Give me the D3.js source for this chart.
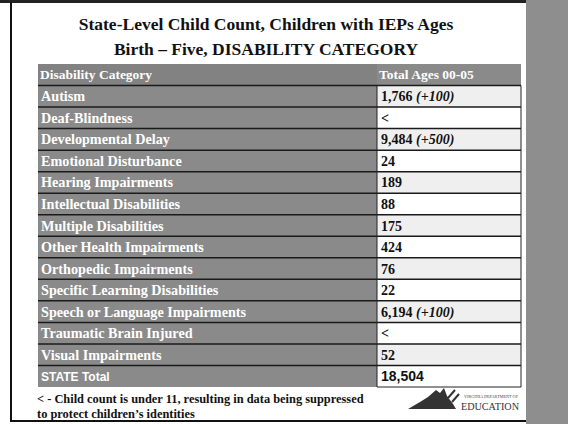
<!DOCTYPE html>
<html>
    <head>
        <meta charset="utf-8">
        <style>
            body { margin: 0; background: #fff; }
            svg { display: block; }
            .serif { font-family: "Liberation Serif", "Times New Roman", serif; font-weight: bold; }
            .sans { font-family: "Liberation Sans", Arial, sans-serif; font-weight: bold; }
        </style>
    </head>
    <body>
        <svg class="chart" width="568" height="424"></svg>
        <script src="https://cdnjs.cloudflare.com/ajax/libs/d3/7.8.5/d3.min.js"></script>
        <script>
            // table content
            var categories = ['Autism', 'Deaf-Blindness', 'Developmental Delay', 'Emotional Disturbance',
                'Hearing Impairments', 'Intellectual Disabilities', 'Multiple Disabilities',
                'Other Health Impairments', 'Orthopedic Impairments', 'Specific Learning Disabilities',
                'Speech or Language Impairments', 'Traumatic Brain Injured', 'Visual Impairments', 'STATE Total'];
            var totals = ['1,766', '<', '9,484', '24', '189', '88', '175', '424', '76', '22', '6,194', '<', '52', '18,504'];
            var changes = ['(+100)', '', '(+500)', '', '', '', '', '', '', '', '(+100)', '', '', ''];
            var headers = ['Disability Category', 'Total  Ages 00-05'];
            var titleLines = ['State-Level Child Count, Children with IEPs Ages', 'Birth \u2013 Five, DISABILITY CATEGORY'];
            var notes = ['< - Child count is under 11, resulting in data being suppressed', 'to protect children\u2019s identities'];

            var svg = d3.select('svg');

            // background: grey strip on right, frame
            svg.append('rect').attr('x', 526).attr('y', 0).attr('width', 42).attr('height', 424).attr('fill', '#8e8e8e');
            svg.append('rect').attr('x', 0).attr('y', 0).attr('width', 526).attr('height', 3).attr('fill', '#222');
            svg.append('line').attr('x1', 11).attr('x2', 11).attr('y1', 2).attr('y2', 421).attr('stroke', '#111').attr('stroke-width', 2);
            svg.append('line').attr('x1', 10).attr('x2', 526).attr('y1', 421).attr('y2', 421).attr('stroke', '#111').attr('stroke-width', 2);

            // title
            svg.selectAll('.title').data(titleLines).enter().append('text')
              .attr('class', 'serif title')
              .attr('x', 266)
              .attr('y', function(d, i) { return 30 + i * 25; })
              .attr('text-anchor', 'middle')
              .attr('font-size', 17.5)
              .attr('fill', '#111')
              .text(function(d) { return d; });

            var rows = ['header'].concat(categories);
            var y = d3.scaleBand().domain(d3.range(rows.length)).range([64, 387]);
            var x = d3.scaleOrdinal().domain([0, 1, 2]).range([38, 377, 521]);

            var tbl = svg.append('g');

            // category column cells
            tbl.selectAll('.cat').data(rows).enter().append('rect')
              .attr('x', x(0)).attr('width', x(1) - x(0))
              .attr('y', function(d, i) { return y(i); })
              .attr('height', y.bandwidth())
              .attr('fill', function(d, i) { return i === 0 ? '#828282' : '#8a8a8a'; });

            // value column cells
            tbl.selectAll('.val').data(rows).enter().append('rect')
              .attr('x', x(1)).attr('width', x(2) - x(1))
              .attr('y', function(d, i) { return y(i); })
              .attr('height', y.bandwidth())
              .attr('fill', function(d, i) {
                  if (i === 0) return '#8a8a8a';
                  return (i - 1) % 2 === 0 && i < rows.length - 1 ? '#efefef' : '#fff';
              });

            // row separators
            tbl.selectAll('.sep').data(d3.range(1, rows.length)).enter().append('line')
              .attr('x1', x(0)).attr('x2', x(2))
              .attr('y1', function(i) { return y(i); })
              .attr('y2', function(i) { return y(i); })
              .attr('stroke', '#1a1a1a').attr('stroke-width', 1.5);

            tbl.append('line').attr('x1', x(1)).attr('x2', x(1)).attr('y1', y(1)).attr('y2', 387)
              .attr('stroke', '#222').attr('stroke-width', 1);
            tbl.append('line').attr('x1', x(2)).attr('x2', x(2)).attr('y1', y(1)).attr('y2', 387)
              .attr('stroke', '#222').attr('stroke-width', 1);
            tbl.append('line').attr('x1', x(1)).attr('x2', x(2)).attr('y1', 387).attr('y2', 387)
              .attr('stroke', '#222').attr('stroke-width', 1);

            // header text
            tbl.selectAll('.hdr').data(headers).enter().append('text')
              .attr('class', 'serif')
              .attr('x', function(d, i) { return x(i) + 2; })
              .attr('y', y(0) + y.bandwidth() / 2 + 4)
              .attr('font-size', 13.5)
              .attr('fill', '#fff')
              .text(function(d) { return d; });

            // category labels
            tbl.selectAll('.lbl').data(categories).enter().append('text')
              .attr('class', function(d, i) { return i === categories.length - 1 ? 'sans' : 'serif'; })
              .attr('x', x(0) + 3)
              .attr('y', function(d, i) { return y(i + 1) + y.bandwidth() / 2 + 5; })
              .attr('font-size', function(d, i) { return i === categories.length - 1 ? 12 : 14.2; })
              .attr('fill', '#fff')
              .text(function(d) { return d; });

            // values
            var vals = tbl.selectAll('.v').data(totals).enter().append('text')
              .attr('class', function(d, i) { return i === totals.length - 1 ? 'sans' : 'serif'; })
              .attr('x', x(1) + 4)
              .attr('y', function(d, i) { return y(i + 1) + y.bandwidth() / 2 + 5; })
              .attr('font-size', 14)
              .attr('fill', '#111');
            vals.append('tspan').text(function(d) { return d; });
            vals.append('tspan')
              .attr('font-style', 'italic')
              .text(function(d, i) { return changes[i] ? ' ' + changes[i] : ''; });

            // footnote
            svg.selectAll('.note').data(notes).enter().append('text')
              .attr('class', 'serif')
              .attr('x', 37)
              .attr('y', function(d, i) { return 403 + i * 15; })
              .attr('font-size', 12.4)
              .attr('fill', '#111')
              .text(function(d) { return d; });

            // agency logo
            var logo = svg.append('g');
            logo.append('path')
              .attr('d', 'M408,409 L420,402 L428,397 L436,390 L440,393 L444,388 L447,396 L450,400 L453,404 L456,409 Z')
              .attr('fill', '#333');
            logo.append('path').attr('d', 'M448,398 L455,390 M452,402 L459,394').attr('stroke', '#333').attr('stroke-width', 2);
            logo.append('text').attr('x', 464).attr('y', 398)
              .attr('font-family', 'Liberation Serif, serif').attr('font-size', 4.5).attr('fill', '#444')
              .attr('textLength', 54).attr('lengthAdjust', 'spacingAndGlyphs')
              .text('VIRGINIA DEPARTMENT OF');
            logo.append('text').attr('x', 461).attr('y', 410)
              .attr('font-family', 'Liberation Serif, serif').attr('font-size', 11).attr('fill', '#333')
              .attr('textLength', 58).attr('lengthAdjust', 'spacingAndGlyphs')
              .text('EDUCATION');
        </script>
    </body>
</html>
